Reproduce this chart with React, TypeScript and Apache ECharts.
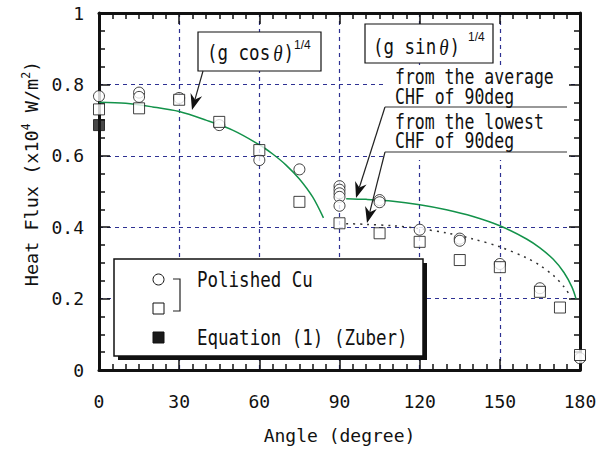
import React, { useEffect, useRef } from "react";
import * as echarts from "echarts";

// ---- data ----
const circleAngle = [0, 15, 15, 30, 45, 60, 75, 90, 90, 90, 90, 90, 105, 105, 120, 135, 135, 150, 165, 180];
const circleFlux = [0.767, 0.777, 0.765, 0.762, 0.686, 0.588, 0.562, 0.515, 0.505, 0.495, 0.485, 0.46, 0.476, 0.47, 0.393, 0.368, 0.362, 0.297, 0.229, 0.033];

const squareAngle = [0, 15, 30, 45, 60, 75, 90, 105, 120, 135, 150, 165, 172.5, 180];
const squareFlux = [0.73, 0.733, 0.757, 0.695, 0.616, 0.471, 0.411, 0.383, 0.359, 0.308, 0.288, 0.219, 0.175, 0.042];

const zuberAngle = [0];
const zuberFlux = [0.686];

// (g cos θ)^1/4 curve
const cosAngle = [0, 10, 20, 30, 40, 50, 60, 65, 70, 75, 80, 84];
const cosFlux = [0.75, 0.747, 0.737, 0.724, 0.7, 0.672, 0.631, 0.605, 0.574, 0.535, 0.484, 0.426];

// (g sin θ)^1/4 from the average CHF of 90deg (green)
const sinAvgAngle = [92.5, 100, 110, 120, 130, 140, 150, 160, 165, 170, 174, 177, 178.5];
const sinAvgFlux = [0.48, 0.478, 0.473, 0.463, 0.449, 0.43, 0.404, 0.367, 0.342, 0.31, 0.273, 0.232, 0.2];

// (g sin θ)^1/4 from the lowest CHF of 90deg (dotted)
const sinLowAngle = [92.5, 100, 110, 120, 130, 140, 150, 160, 165, 170, 174, 176.5];
const sinLowFlux = [0.41, 0.408, 0.404, 0.396, 0.384, 0.367, 0.345, 0.314, 0.293, 0.265, 0.233, 0.206];

const xTickLabels = ["0", "30", "60", "90", "120", "150", "180"];
const yTickLabels = ["0", "0.2", "0.4", "0.6", "0.8", "1"];

const MONO = "'DejaVu Sans Mono', 'Liberation Mono', monospace";
const SANS = "'Liberation Sans', Arial, sans-serif";
const SERIF = "'Liberation Serif', 'DejaVu Serif', serif";
const INK = "#111";

const zip = (a: number[], b: number[]) => a.map((v, i) => [v, b[i]]);

function arrow(fx: number, fy: number, tx: number, ty: number, L = 16, W = 6, N = 5) {
  const dx = tx - fx, dy = ty - fy;
  const len = Math.hypot(dx, dy);
  const ux = dx / len, uy = dy / len;
  const nx = -uy, ny = ux;
  const bx = tx - L * ux, by = ty - L * uy;
  const mx = tx - (L - N) * ux, my = ty - (L - N) * uy;
  return [
    { type: "line", z: 60, shape: { x1: fx, y1: fy, x2: mx, y2: my }, style: { stroke: "#222", lineWidth: 1.2 } },
    {
      type: "polygon", z: 61,
      shape: { points: [[tx, ty], [bx + W * nx, by + W * ny], [mx, my], [bx - W * nx, by - W * ny]] },
      style: { fill: "#111" },
    },
  ];
}

function txt(text: string, x: number, y: number, size: number, sy = 1.25) {
  return {
    type: "text", x, y, scaleY: sy, z: 62,
    style: { text, x: 0, y: 0, fontFamily: MONO, fontSize: size, fill: INK, verticalAlign: "middle", align: "left" },
  };
}

function formulaText(fn: string, x: number, y: number) {
  return {
    type: "text", x, y, scaleY: 1.25, z: 62,
    style: {
      text: `{a|(g ${fn}}{i|θ}{a|)}`, x: 0, y: 0, verticalAlign: "middle", align: "left",
      rich: {
        a: { fontFamily: MONO, fontSize: 17.5, fill: INK },
        i: { fontFamily: SERIF, fontSize: 19, fontStyle: "italic", fill: INK, padding: [0, 1, 0, 3] },
      },
    },
  };
}

function supText(x: number, y: number) {
  return {
    type: "text", x, y, z: 62,
    style: { text: "1/4", x: 0, y: 0, fontFamily: SANS, fontSize: 12, fill: INK, verticalAlign: "middle", align: "left" },
  };
}

export default function App() {
  const ref = useRef<HTMLDivElement>(null);
  useEffect(() => {
    const chart = echarts.init(ref.current!, null, { renderer: "svg" });

    const axisLine = { show: true, onZero: false, lineStyle: { color: INK, width: 3 } };
    const tickStyle = { color: INK, width: 1.5 };
    const split = { show: true, lineStyle: { color: "#2e3192", type: [4, 4], width: 1.2 } };

    const xBase = { type: "value", min: 0, max: 180, interval: 30 };
    const yBase = { type: "value", min: 0, max: 1, interval: 0.2 };

    const option: any = {
      animation: false,
      backgroundColor: "#fff",
      grid: { left: 99, right: 28, top: 13, bottom: 80, containLabel: false },
      xAxis: [
        {
          ...xBase, position: "bottom", axisLine,
          axisTick: { inside: true, length: 11, lineStyle: tickStyle },
          minorTick: { show: true, splitNumber: 6, length: 6, lineStyle: tickStyle },
          splitLine: split,
          axisLabel: {
            margin: 22, fontFamily: MONO, fontSize: 18, color: INK,
            formatter: (v: number) => xTickLabels[Math.round(v / 30)],
          },
          name: "Angle (degree)", nameLocation: "middle", nameGap: 56,
          nameTextStyle: { fontFamily: MONO, fontSize: 18, color: INK },
        },
        {
          ...xBase, position: "top", axisLine,
          axisTick: { inside: true, length: 11, lineStyle: tickStyle },
          minorTick: { show: true, splitNumber: 6, length: 6, lineStyle: tickStyle },
          splitLine: { show: false }, axisLabel: { show: false },
        },
      ],
      yAxis: [
        {
          ...yBase, position: "left", axisLine,
          axisTick: { inside: true, length: 11, lineStyle: tickStyle },
          minorTick: { show: true, splitNumber: 4, length: 6, lineStyle: tickStyle },
          splitLine: split,
          axisLabel: {
            margin: 15, fontFamily: MONO, fontSize: 18, color: INK,
            formatter: (v: number) => yTickLabels[Math.round(v / 0.2)],
          },
          name: "{a|Heat Flux (x10}{s|4}{a| W/m}{s|2}{a|)}",
          nameLocation: "middle", nameRotate: 90, nameGap: 56,
          nameTextStyle: {
            fontFamily: MONO, fontSize: 18.5, color: INK, padding: [0, 0, 0, 36],
            rich: {
              a: { fontFamily: MONO, fontSize: 18.5, color: INK, lineHeight: 22 },
              s: { fontFamily: MONO, fontSize: 11.5, color: INK, verticalAlign: "top", lineHeight: 22 },
            },
          },
        },
        {
          ...yBase, position: "right", axisLine,
          axisTick: { inside: true, length: 11, lineStyle: tickStyle },
          minorTick: { show: true, splitNumber: 4, length: 6, lineStyle: tickStyle },
          splitLine: { show: false }, axisLabel: { show: false },
        },
      ],
      series: [
        {
          type: "line", data: zip(cosAngle, cosFlux), smooth: 0.3, showSymbol: false, z: 3,
          lineStyle: { color: "#13924a", width: 1.5 },
        },
        {
          type: "line", data: zip(sinAvgAngle, sinAvgFlux), smooth: 0.3, showSymbol: false, z: 3,
          lineStyle: { color: "#13924a", width: 1.5 },
        },
        {
          type: "line", data: zip(sinLowAngle, sinLowFlux), smooth: 0.3, showSymbol: false, z: 3,
          lineStyle: { color: "#333", width: 1.5, type: [2, 5] },
        },
        {
          type: "scatter", data: zip(circleAngle, circleFlux), symbol: "circle", symbolSize: 11, clip: false, z: 4,
          itemStyle: { color: "#fff", borderColor: INK, borderWidth: 1 },
        },
        {
          type: "scatter", data: zip(squareAngle, squareFlux), symbol: "rect", symbolSize: 11, clip: false, z: 5,
          itemStyle: { color: "#fff", borderColor: INK, borderWidth: 1 },
        },
        {
          type: "scatter", data: zip(zuberAngle, zuberFlux), symbol: "rect", symbolSize: 11, clip: false, z: 5,
          itemStyle: { color: "#1a1a1a", borderColor: INK, borderWidth: 1 },
        },
      ],
      graphic: [
        // white area behind the "from the ..." notes
        { type: "rect", z: 1, shape: { x: 383, y: 65, width: 186, height: 95 }, style: { fill: "#fff" } },
        // (g cos θ)^1/4 box
        { type: "rect", z: 58, shape: { x: 198, y: 32, width: 123, height: 39 }, style: { fill: "#fff", stroke: INK, lineWidth: 1.2 } },
        formulaText("cos", 207, 53),
        supText(294, 45),
        ...arrow(203, 71, 192, 110),
        // (g sin θ)^1/4 box
        { type: "rect", z: 58, shape: { x: 365, y: 24, width: 128, height: 39 }, style: { fill: "#fff", stroke: INK, lineWidth: 1.2 } },
        formulaText("sin", 373, 47),
        supText(468, 37),
        txt("from the average", 395, 77, 16.5, 1.26),
        txt("CHF of 90deg", 395, 97, 16.5, 1.26),
        { type: "line", z: 60, shape: { x1: 385, y1: 107, x2: 567, y2: 107 }, style: { stroke: "#333", lineWidth: 1.2 } },
        ...arrow(385, 107, 356, 198),
        txt("from the lowest", 395, 122, 16.5, 1.26),
        txt("CHF of 90deg", 395, 141, 16.5, 1.26),
        { type: "line", z: 60, shape: { x1: 385, y1: 152, x2: 567, y2: 152 }, style: { stroke: "#333", lineWidth: 1.2 } },
        ...arrow(385, 152, 367, 223),
        // legend box
        { type: "rect", z: 50, shape: { x: 118, y: 263, width: 309, height: 97 }, style: { fill: "#111" } },
        { type: "rect", z: 51, shape: { x: 114, y: 259, width: 309, height: 97 }, style: { fill: "#fff", stroke: INK, lineWidth: 1.5 } },
        { type: "circle", z: 52, shape: { cx: 158.5, cy: 279.5, r: 5.5 }, style: { fill: "#fff", stroke: INK, lineWidth: 1 } },
        { type: "rect", z: 52, shape: { x: 153, y: 303, width: 11, height: 11 }, style: { fill: "#fff", stroke: INK, lineWidth: 1 } },
        { type: "rect", z: 52, shape: { x: 153, y: 332, width: 11, height: 11 }, style: { fill: "#1a1a1a", stroke: INK, lineWidth: 1 } },
        {
          type: "polyline", z: 52,
          shape: { points: [[173, 279], [180, 279], [180, 311], [173, 311]] },
          style: { stroke: "#222", lineWidth: 1.2, fill: null },
        },
        txt("Polished Cu", 197, 280, 17.5),
        txt("Equation (1) (Zuber)", 197, 338, 17.5),
      ],
    };

    chart.setOption(option);
    return () => chart.dispose();
  }, []);

  return (
    <div
      ref={ref}
      style={{ position: "fixed", left: 0, top: 0, width: 608, height: 450, background: "#fff" }}
    />
  );
}
